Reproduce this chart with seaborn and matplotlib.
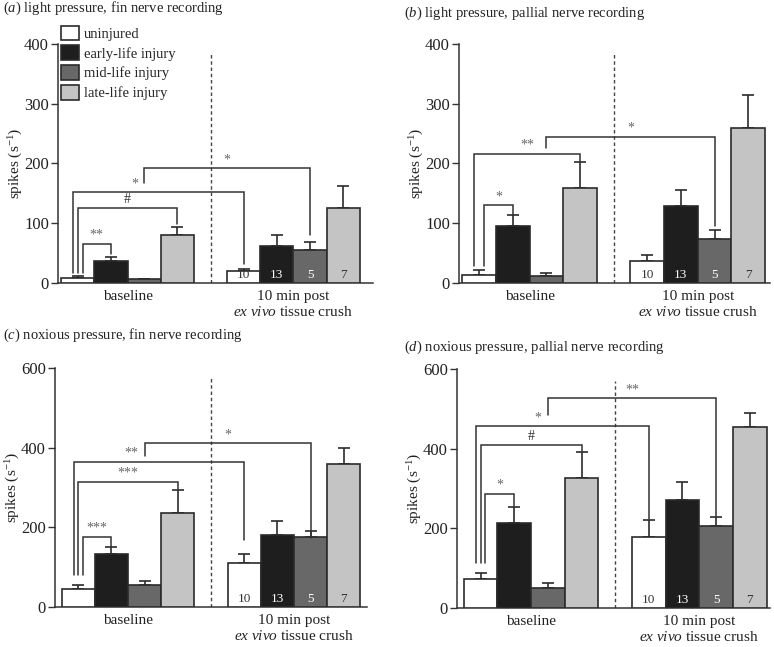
import matplotlib
matplotlib.use("Agg")
import matplotlib.pyplot as plt
import seaborn as sns
import pandas as pd
from matplotlib.patches import Patch

sns.set_theme(style="ticks")
plt.rcParams["font.family"] = ["Liberation Serif", "DejaVu Serif"]
plt.rcParams["mathtext.fontset"] = "custom"
plt.rcParams["mathtext.rm"] = "Liberation Serif"
plt.rcParams["mathtext.it"] = "Liberation Serif:italic"

GROUPS = ["uninjured", "early-life injury", "mid-life injury", "late-life injury"]
CONDITIONS = ["baseline", "10 min post\n$\\it{ex\\ vivo}$ tissue crush"]
COLORS = ["#ffffff", "#1e1e1e", "#686868", "#c4c4c4"]
N_LABELS = ["10", "13", "5", "7"]

# means / SEM, baseline then post crush
a_base = [8, 36, 6, 80]
a_base_sem = [3, 7, 1.5, 14]
a_post = [20, 62, 55, 126]
a_post_sem = [4, 19, 13, 36]

b_base = [13, 95, 12, 159]
b_base_sem = [8, 19, 4, 44]
b_post = [36, 129, 74, 260]
b_post_sem = [11, 27, 14, 54]

c_base = [46, 134, 55, 237]
c_base_sem = [10, 17, 10, 57]
c_post = [111, 182, 175, 359]
c_post_sem = [21, 33, 15, 39]

d_base = [73, 213, 49, 326]
d_base_sem = [15, 41, 14, 65]
d_post = [178, 271, 206, 455]
d_post_sem = [42, 45, 22, 34]

# significance brackets: (bar i, bar j, top, left end, right end, leg shift, label, label pos)
# bars numbered 0-3 baseline, 4-7 post crush
a_sig = [(0, 1, 66, 17, 49, 1, "**", 0.5), (0, 3, 125, 17, 99, 0, "#", 0.5),
         (0, 4, 152, 17, 32, -1, "*", 0.36), (2, 6, 192, 167, 80, 0, "*", 0.5)]
b_sig = [(0, 1, 130, 28, 114, 1, "*", 0.5), (0, 3, 216, 28, 203, -1, "**", 0.5),
         (2, 6, 245, 226, 95, 0, "*", 0.5)]
c_sig = [(0, 1, 176, 80, 151, 1, "***", 0.5), (0, 3, 315, 80, 294, 0, "***", 0.5),
         (0, 4, 365, 80, 168, -1, "**", 0.34), (2, 6, 411, 379, 172, 0, "*", 0.5)]
d_sig = [(0, 1, 286, 113, 255, 1, "*", 0.5), (0, 3, 408, 113, 391, 0, "#", 0.5),
         (0, 4, 456, 113, 223, -1, "*", 0.36), (2, 6, 526, 485, 230, 0, "**", 0.5)]

TITLES = ["($\\it{a}$) light pressure, fin nerve recording",
          "($\\it{b}$) light pressure, pallial nerve recording",
          "($\\it{c}$) noxious pressure, fin nerve recording",
          "($\\it{d}$) noxious pressure, pallial nerve recording"]

W, H = 774, 647
EDGE = "#2b2b2b"


def draw_panel(ax, base, base_sem, post, post_sem, sig, ymax, yticks, xlim, dash_top):
    df = pd.DataFrame({
        "condition": [CONDITIONS[0]] * 4 + [CONDITIONS[1]] * 4,
        "group": GROUPS * 2,
        "value": base + post,
    })
    sns.barplot(data=df, x="condition", y="value", hue="group", hue_order=GROUPS,
                order=CONDITIONS, palette=dict(zip(GROUPS, COLORS)), saturation=1,
                edgecolor=EDGE, linewidth=1.2, errorbar=None, legend=False, ax=ax,
                zorder=3)
    # bar centres from seaborn containers (one per hue level)
    centers, width = {}, None
    for g, cont in enumerate(ax.containers):
        for c, bar in enumerate(cont):
            centers[c * 4 + g] = bar.get_x() + bar.get_width() / 2
            width = bar.get_width()
    means = base + post
    sems = base_sem + post_sem
    xs = [centers[k] for k in range(8)]
    ax.errorbar(xs, means, yerr=[[0] * 8, sems], fmt="none", ecolor=EDGE,
                elinewidth=1.2, capsize=4.5, capthick=1.2, zorder=2)
    for g in range(4):
        ax.annotate(N_LABELS[g], xy=(centers[4 + g], 0), xytext=(0, 1.5),
                    textcoords="offset points", ha="center", va="bottom", fontsize=9.5,
                    color="white" if g in (1, 2) else "#333333", zorder=5)
    shift = width * 0.14
    for i, j, top, lb, rb, s, lab, pos in sig:
        x1 = centers[i] + s * shift
        x2 = centers[j]
        ax.plot([x1, x1, x2, x2], [lb, top, top, rb], color="#333333", lw=1.1,
                solid_joinstyle="miter", zorder=4)
        ax.annotate(lab, xy=(x1 + (x2 - x1) * pos, top), xytext=(0, 1.5),
                    textcoords="offset points", ha="center", va="bottom",
                    fontsize=10, color="#666666" if "*" in lab else "#333333")
    ax.axvline(0.5, ymin=0, ymax=dash_top, color="#444444", lw=1, ls=(0, (2.5, 2)), zorder=1)
    ax.set_xlim(*xlim)
    ax.set_ylim(0, ymax)
    ax.set_yticks(yticks)
    ax.set_xlabel("")
    ax.set_ylabel("spikes (s$^{-1}$)", fontsize=11, color="#222222", labelpad=-1)
    ax.tick_params(axis="x", length=0, pad=5, labelsize=11, labelcolor="#222222")
    ax.tick_params(axis="y", length=5, width=1, direction="out", labelsize=12,
                   labelcolor="#222222", color="#333333", pad=1.5)
    sns.despine(ax=ax)
    for sp in ("left", "bottom"):
        ax.spines[sp].set_linewidth(1.1)
        ax.spines[sp].set_color("#333333")


fig = plt.figure(figsize=(W / 100, H / 100), dpi=100)


def add_ax(left, right, top, bottom):
    return fig.add_axes([left / W, 1 - bottom / H, (right - left) / W, (bottom - top) / H])


ax_a = add_ax(58, 373, 44, 283)
ax_b = add_ax(459, 770, 44, 283)
ax_c = add_ax(55, 367, 368, 607)
ax_d = add_ax(457, 770, 369, 608)

draw_panel(ax_a, a_base, a_base_sem, a_post, a_post_sem, a_sig, 400,
           [0, 100, 200, 300, 400], (-0.42, 1.48), 0.96)
draw_panel(ax_b, b_base, b_base_sem, b_post, b_post_sem, b_sig, 400,
           [0, 100, 200, 300, 400], (-0.42, 1.43), 0.96)
draw_panel(ax_c, c_base, c_base_sem, c_post, c_post_sem, c_sig, 600,
           [0, 200, 400, 600], (-0.44, 1.44), 0.96)
draw_panel(ax_d, d_base, d_base_sem, d_post, d_post_sem, d_sig, 600,
           [0, 200, 400, 600], (-0.44, 1.42), 0.95)

handles = [Patch(facecolor=c, edgecolor=EDGE, linewidth=1.2, label=g) for g, c in zip(GROUPS, COLORS)]
ax_a.legend(handles=handles, loc="upper left", bbox_to_anchor=(0.011, 1.077), frameon=False,
            fontsize=10.5, handlelength=1.2, handleheight=1.15, labelspacing=0.32,
            handletextpad=0.35, borderaxespad=0, borderpad=0)

for (x, y), t in zip([(3, 8), (404, 13), (3, 335), (404, 347)], TITLES):
    fig.text(x / W, 1 - y / H, t, ha="left", va="center", fontsize=10.5, color="#222222")

fig.savefig("out.png", dpi=100)
